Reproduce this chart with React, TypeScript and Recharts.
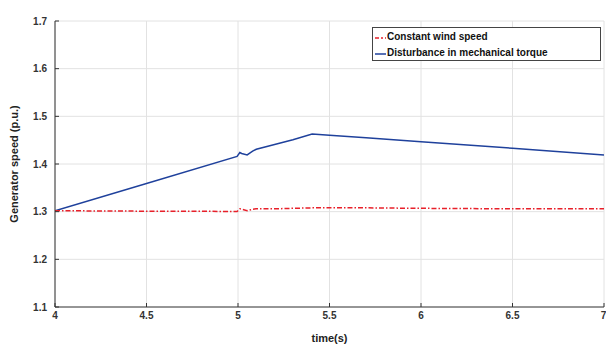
import React from 'react'
import { LineChart, Line, XAxis, YAxis, CartesianGrid } from 'recharts'

// time axis (s)
const times = [4, 4.5, 4.995, 5.01, 5.02, 5.05, 5.08, 5.1, 5.2, 5.3, 5.405, 5.5, 5.7, 6, 6.5, 7]
// generator speed (p.u.)
const constantWind = [1.302, 1.301, 1.3005, 1.306, 1.305, 1.302, 1.305, 1.306, 1.306, 1.307, 1.308, 1.308, 1.308, 1.307, 1.306, 1.306]
const torqueDisturbance = [1.302, 1.359, 1.416, 1.424, 1.422, 1.419, 1.427, 1.431, 1.441, 1.451, 1.463, 1.4605, 1.455, 1.4465, 1.433, 1.419]

const xTicks = [4, 4.5, 5, 5.5, 6, 6.5, 7]
const yTicks = [1.1, 1.2, 1.3, 1.4, 1.5, 1.6, 1.7]
const seriesNames = ['Constant wind speed', 'Disturbance in mechanical torque']

const chartData = times.map((t, i) => ({
  t,
  constant: constantWind[i],
  torque: torqueDisturbance[i],
}))

const RED = '#e8202a'
const BLUE = '#1f419c'
const FONT = '"Liberation Sans", Arial, sans-serif'

const tickStyle = { fontSize: 10, fontWeight: 700, fill: '#333', fontFamily: FONT }
const labelStyle = { fontSize: 11, fontWeight: 700, fill: '#222', fontFamily: FONT }

function LegendBox() {
  return (
    <div
      style={{
        position: 'absolute',
        left: 372,
        top: 27,
        border: '1px solid #444',
        background: '#fff',
        width: 229,
        height: 34,
        fontFamily: FONT,
        fontSize: 10,
        fontWeight: 700,
        color: '#111',
        boxSizing: 'border-box',
        paddingTop: 0,
      }}
    >
      <div style={{ display: 'flex', alignItems: 'center', height: 16 }}>
        <svg width={13} height={10} style={{ marginLeft: 1 }}>
          <line x1={1} y1={7} x2={12} y2={7} stroke={RED} strokeWidth={1.5} strokeDasharray="4 2 2 2" />
        </svg>
        <span>{seriesNames[0]}</span>
      </div>
      <div style={{ display: 'flex', alignItems: 'center', height: 16 }}>
        <svg width={13} height={10} style={{ marginLeft: 1 }}>
          <line x1={1} y1={7} x2={12} y2={7} stroke={BLUE} strokeWidth={1.5} />
        </svg>
        <span>{seriesNames[1]}</span>
      </div>
    </div>
  )
}

export default function App() {
  return (
    <div style={{ position: 'absolute', left: 0, top: 0, width: 606, height: 345, background: '#fff' }}>
      <LineChart width={606} height={345} data={chartData} margin={{ top: 21, right: 2, left: 10, bottom: 0 }}>
        <CartesianGrid stroke="#e2e2e2" />
        <XAxis
          dataKey="t"
          type="number"
          domain={[4, 7]}
          ticks={xTicks}
          allowDataOverflow
          height={38}
          tick={tickStyle}
          tickSize={-4}
          tickMargin={9}
          axisLine={{ stroke: '#777', strokeWidth: 1.5 }}
          tickLine={{ stroke: '#333' }}
          label={{ value: 'time(s)', position: 'insideBottom', offset: 3, style: labelStyle }}
        />
        <YAxis
          type="number"
          domain={[1.1, 1.7]}
          ticks={yTicks}
          allowDataOverflow
          width={45}
          tick={tickStyle}
          tickSize={-4}
          tickMargin={12}
          tickFormatter={(v: number) => v.toFixed(1)}
          axisLine={{ stroke: '#333' }}
          tickLine={{ stroke: '#333' }}
          label={{ value: 'Generator speed (p.u.)', angle: -90, position: 'insideLeft', offset: 4, style: { ...labelStyle, textAnchor: 'middle' } }}
        />
        <Line
          type="linear"
          dataKey="torque"
          name={seriesNames[1]}
          stroke={BLUE}
          strokeWidth={1.5}
          dot={false}
          isAnimationActive={false}
        />
        <Line
          type="linear"
          dataKey="constant"
          name={seriesNames[0]}
          stroke={RED}
          strokeWidth={1.5}
          strokeDasharray="5 2 1.5 2"
          dot={false}
          isAnimationActive={false}
        />
      </LineChart>
      <LegendBox />
    </div>
  )
}
